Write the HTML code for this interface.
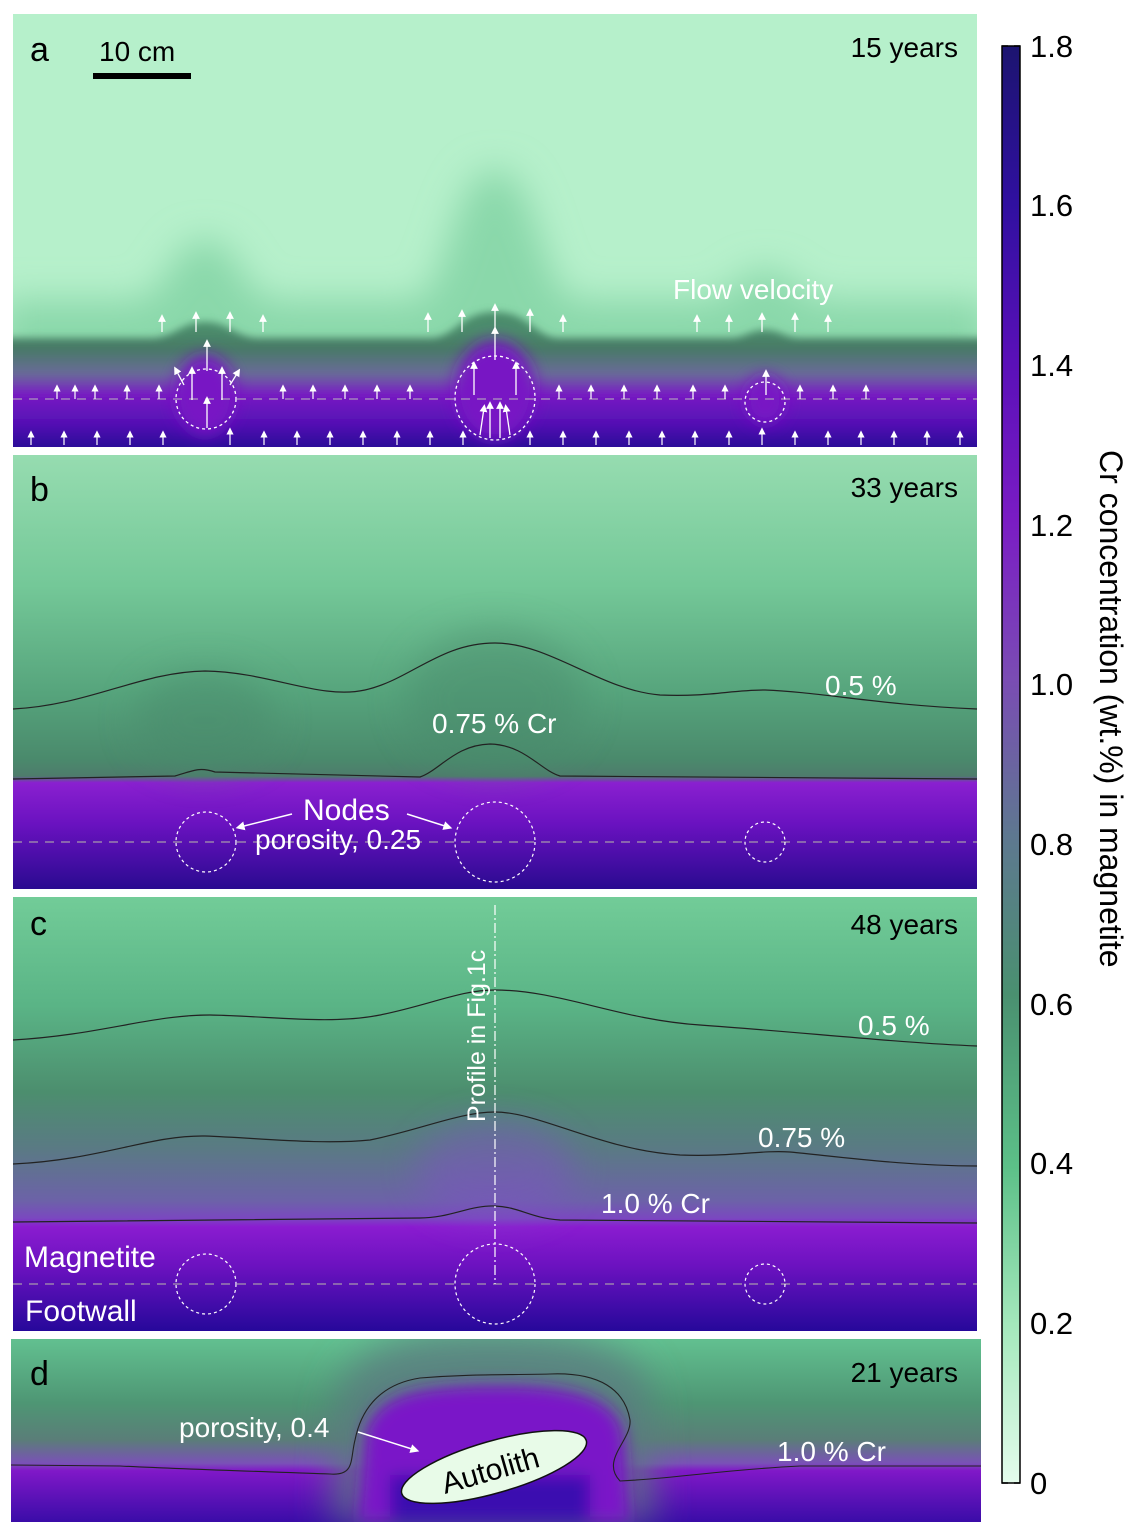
<!DOCTYPE html>
<html><head><meta charset="utf-8"><style>
html,body{margin:0;padding:0;background:#fff;}
svg{display:block;font-family:"Liberation Sans",Arial,sans-serif;}
</style></head><body>
<svg width="1142" height="1535" viewBox="0 0 1142 1535" xmlns="http://www.w3.org/2000/svg">
<defs>
<linearGradient id="cb" x1="0" y1="0" x2="0" y2="1">
<stop offset="0" stop-color="#1c1470"/><stop offset="0.11" stop-color="#3010a0"/>
<stop offset="0.22" stop-color="#5a10b8"/><stop offset="0.33" stop-color="#7a1cc4"/>
<stop offset="0.44" stop-color="#7a4cb4"/><stop offset="0.55" stop-color="#5e7890"/>
<stop offset="0.66" stop-color="#4a9070"/><stop offset="0.78" stop-color="#5cc088"/>
<stop offset="0.89" stop-color="#a4e8bc"/><stop offset="1" stop-color="#e4fcec"/>
</linearGradient>
<linearGradient id="pa" x1="0" y1="330" x2="0" y2="447" gradientUnits="userSpaceOnUse">
<stop offset="0" stop-color="#4c8c6c"/><stop offset="0.15" stop-color="#467a64"/>
<stop offset="0.38" stop-color="#6a6a9a"/><stop offset="0.55" stop-color="#7818c4"/>
<stop offset="0.8" stop-color="#5410b4"/><stop offset="1" stop-color="#2a0a98"/>
</linearGradient>
<linearGradient id="gb" x1="0" y1="455" x2="0" y2="889" gradientUnits="userSpaceOnUse">
<stop offset="0" stop-color="#96dcb0"/><stop offset="0.3" stop-color="#74c898"/>
<stop offset="0.55" stop-color="#56a47c"/><stop offset="0.7" stop-color="#4a8a6c"/>
<stop offset="0.74" stop-color="#4e7c6c"/><stop offset="0.755" stop-color="#8a20d0"/>
<stop offset="0.85" stop-color="#6a12c0"/><stop offset="1" stop-color="#2a0a90"/>
</linearGradient>
<linearGradient id="gc" x1="0" y1="897" x2="0" y2="1331" gradientUnits="userSpaceOnUse">
<stop offset="0" stop-color="#72cc98"/><stop offset="0.25" stop-color="#5ab486"/>
<stop offset="0.45" stop-color="#4c8e6e"/><stop offset="0.58" stop-color="#5a7a84"/>
<stop offset="0.7" stop-color="#6c62a8"/><stop offset="0.74" stop-color="#7a48c0"/>
<stop offset="0.76" stop-color="#8a1cd0"/><stop offset="0.85" stop-color="#6c12c0"/>
<stop offset="1" stop-color="#26089a"/>
</linearGradient>
<linearGradient id="gd" x1="0" y1="1339" x2="0" y2="1522" gradientUnits="userSpaceOnUse">
<stop offset="0" stop-color="#62c090"/><stop offset="0.35" stop-color="#4e9674"/>
<stop offset="0.55" stop-color="#5a7e78"/><stop offset="0.68" stop-color="#7a50b8"/>
<stop offset="0.72" stop-color="#8018c8"/><stop offset="1" stop-color="#3a0ca8"/>
</linearGradient>
<filter id="bl" x="-50%" y="-50%" width="200%" height="200%"><feGaussianBlur stdDeviation="18"/></filter>
<filter id="bl2" x="-50%" y="-50%" width="200%" height="200%"><feGaussianBlur stdDeviation="8"/></filter>
<filter id="bl3" x="-10%" y="-50%" width="120%" height="200%"><feGaussianBlur stdDeviation="4"/></filter>
<clipPath id="ca"><rect x="13" y="14" width="964" height="433"/></clipPath>
<clipPath id="cd"><rect x="11" y="1339" width="970" height="183"/></clipPath>
<marker id="ah" markerWidth="6" markerHeight="6" refX="3" refY="3" orient="auto"><path d="M0,0 L6,3 L0,6 z" fill="#fff"/></marker>
</defs>

<!-- Panel a -->
<g clip-path="url(#ca)">
<rect x="13" y="14" width="964" height="433" fill="#b6f0cb"/>
<g filter="url(#bl)">
<path d="M0,300 L130,300 C170,300 170,240 205,240 C240,240 240,300 280,300 L410,300 C450,300 450,170 495,170 C540,170 540,300 580,300 L700,300 C730,300 740,270 765,270 C790,270 800,300 830,300 L990,300 L990,460 L0,460 z" fill="#8ad8aa"/>
</g>
<g filter="url(#bl3)">
<path d="M0,338 L150,338 C175,338 180,322 205,322 C230,322 235,338 260,338 L430,338 C455,338 460,312 495,312 C530,312 535,338 560,338 L730,338 C745,338 750,330 765,330 C780,330 785,338 800,338 L990,338 L990,460 L0,460 z" fill="url(#pa)"/>
</g>
<g filter="url(#bl2)">
<ellipse cx="205" cy="395" rx="30" ry="40" fill="#7818c4"/>
<ellipse cx="495" cy="390" rx="40" ry="50" fill="#7818c4"/>
<ellipse cx="765" cy="400" rx="20" ry="24" fill="#7818c4"/>
</g>
<line x1="13" y1="399" x2="977" y2="399" stroke="#bbb" stroke-dasharray="9,7" stroke-width="1"/>
<g stroke="#fff" stroke-width="1.3" fill="none" stroke-dasharray="3,3">
<ellipse cx="206" cy="399" rx="30" ry="30"/><ellipse cx="495" cy="398" rx="40" ry="42"/><ellipse cx="765" cy="402" rx="20" ry="20"/>
</g>
<g stroke="#fff" stroke-width="1.3" marker-end="url(#ah)">
<line x1="162" y1="332" x2="162" y2="318"/><line x1="196" y1="332" x2="196" y2="315"/><line x1="230" y1="332" x2="230" y2="315"/><line x1="263" y1="332" x2="263" y2="318"/>
<line x1="428" y1="332" x2="428" y2="316"/><line x1="462" y1="332" x2="462" y2="313"/><line x1="495" y1="332" x2="495" y2="307"/><line x1="530" y1="332" x2="530" y2="312"/><line x1="563" y1="332" x2="563" y2="318"/>
<line x1="697" y1="332" x2="697" y2="318"/><line x1="729" y1="332" x2="729" y2="318"/><line x1="762" y1="332" x2="762" y2="316"/><line x1="795" y1="332" x2="795" y2="316"/><line x1="828" y1="332" x2="828" y2="318"/>
<line x1="207" y1="371" x2="207" y2="343"/><line x1="495" y1="360" x2="495" y2="330"/><line x1="766" y1="395" x2="766" y2="373"/>
<line x1="207" y1="428" x2="207" y2="400"/><line x1="490" y1="438" x2="490" y2="405"/><line x1="500" y1="438" x2="500" y2="405"/><line x1="480" y1="435" x2="484" y2="408"/><line x1="510" y1="435" x2="506" y2="408"/>
<line x1="192" y1="400" x2="192" y2="370"/><line x1="222" y1="400" x2="222" y2="370"/>
<line x1="474" y1="395" x2="474" y2="365"/><line x1="516" y1="395" x2="516" y2="365"/>
<line x1="184" y1="385" x2="176" y2="370"/><line x1="230" y1="385" x2="238" y2="372"/>
</g>
<g stroke="#fff" stroke-width="1.2" marker-end="url(#ah)">
<line x1="57" y1="399" x2="57" y2="388"/><line x1="75" y1="399" x2="75" y2="388"/><line x1="95" y1="399" x2="95" y2="388"/><line x1="127" y1="399" x2="127" y2="388"/><line x1="159" y1="399" x2="159" y2="388"/>
<line x1="283" y1="399" x2="283" y2="388"/><line x1="313" y1="399" x2="313" y2="388"/><line x1="345" y1="399" x2="345" y2="388"/><line x1="377" y1="399" x2="377" y2="388"/><line x1="410" y1="399" x2="410" y2="388"/>
<line x1="559" y1="399" x2="559" y2="388"/><line x1="591" y1="399" x2="591" y2="388"/><line x1="624" y1="399" x2="624" y2="388"/><line x1="657" y1="399" x2="657" y2="388"/><line x1="693" y1="399" x2="693" y2="388"/><line x1="725" y1="399" x2="725" y2="388"/>
<line x1="800" y1="399" x2="800" y2="388"/><line x1="833" y1="399" x2="833" y2="388"/><line x1="866" y1="399" x2="866" y2="388"/>
</g>
<g stroke="#fff" stroke-width="1.2" marker-end="url(#ah)">
<line x1="31" y1="445" x2="31" y2="434"/><line x1="64" y1="445" x2="64" y2="434"/><line x1="97" y1="445" x2="97" y2="434"/><line x1="130" y1="445" x2="130" y2="434"/><line x1="163" y1="445" x2="163" y2="434"/><line x1="230" y1="445" x2="230" y2="431"/><line x1="264" y1="445" x2="264" y2="434"/><line x1="297" y1="445" x2="297" y2="434"/><line x1="330" y1="445" x2="330" y2="434"/><line x1="363" y1="445" x2="363" y2="434"/><line x1="397" y1="445" x2="397" y2="434"/><line x1="430" y1="445" x2="430" y2="434"/><line x1="463" y1="445" x2="463" y2="434"/><line x1="530" y1="445" x2="530" y2="434"/><line x1="563" y1="445" x2="563" y2="434"/><line x1="596" y1="445" x2="596" y2="434"/><line x1="629" y1="445" x2="629" y2="434"/><line x1="662" y1="445" x2="662" y2="434"/><line x1="695" y1="445" x2="695" y2="434"/><line x1="729" y1="445" x2="729" y2="434"/><line x1="762" y1="445" x2="762" y2="431"/><line x1="795" y1="445" x2="795" y2="434"/><line x1="828" y1="445" x2="828" y2="434"/><line x1="861" y1="445" x2="861" y2="434"/><line x1="894" y1="445" x2="894" y2="434"/><line x1="927" y1="445" x2="927" y2="434"/><line x1="960" y1="445" x2="960" y2="434"/>
</g>
</g>
<text x="30" y="61" font-size="34">a</text>
<rect x="93" y="73" width="98" height="6" fill="#000"/>
<text x="99" y="61" font-size="28">10 cm</text>
<text x="958" y="57" font-size="28" text-anchor="end">15 years</text>
<text x="673" y="299" font-size="28" fill="#fff">Flow velocity</text>

<!-- Panel b -->
<rect x="13" y="455" width="964" height="434" fill="url(#gb)"/>
<g filter="url(#bl)" opacity="0.5">
<ellipse cx="495" cy="700" rx="90" ry="70" fill="#4a8a6c"/>
<ellipse cx="205" cy="720" rx="70" ry="50" fill="#4a8a6c"/>
</g>
<path d="M13,709 C90,705 140,672 205,671 C270,672 320,700 365,690 C410,680 440,643 495,643 C550,643 600,690 660,695 C710,697 730,690 765,690 C820,692 880,705 977,709" stroke="#222" stroke-width="1.2" fill="none"/>
<path d="M13,779 L175,776 C195,770 200,767 215,772 L420,777 C440,770 455,745 490,744 C525,745 540,770 560,776 L977,779" stroke="#222" stroke-width="1.2" fill="none"/>
<line x1="13" y1="842" x2="977" y2="842" stroke="#bba" stroke-dasharray="9,7" stroke-width="1"/>
<g stroke="#fff" stroke-width="1.2" fill="none" stroke-dasharray="3,3">
<circle cx="206" cy="842" r="30"/><circle cx="495" cy="842" r="40"/><circle cx="765" cy="842" r="20"/>
</g>
<g stroke="#fff" stroke-width="1.5" marker-end="url(#ah)">
<line x1="292" y1="814" x2="240" y2="827"/><line x1="407" y1="814" x2="448" y2="827"/>
</g>
<text x="30" y="501" font-size="34">b</text>
<text x="958" y="497" font-size="28" text-anchor="end">33 years</text>
<text x="825" y="695" font-size="28" fill="#fff">0.5 %</text>
<text x="432" y="733" font-size="28" fill="#fff">0.75 % Cr</text>
<text x="303" y="820" font-size="30" fill="#fff">Nodes</text>
<text x="255" y="849" font-size="28" fill="#fff">porosity, 0.25</text>

<!-- Panel c -->
<rect x="13" y="897" width="964" height="434" fill="url(#gc)"/>
<g filter="url(#bl)" opacity="0.45">
<ellipse cx="495" cy="1170" rx="80" ry="50" fill="#8050c8"/>
</g>
<path d="M13,1040 C100,1035 150,1015 210,1015 C270,1016 330,1025 380,1015 C430,1005 460,990 495,990 C560,990 620,1020 700,1025 C800,1032 900,1043 977,1046" stroke="#222" stroke-width="1.2" fill="none"/>
<path d="M13,1164 C100,1160 150,1135 205,1136 C260,1138 320,1145 370,1140 C420,1130 460,1112 495,1112 C540,1112 600,1150 680,1155 C730,1157 760,1150 790,1152 C850,1158 910,1166 977,1166" stroke="#222" stroke-width="1.2" fill="none"/>
<path d="M13,1222 L420,1218 C450,1218 470,1205 495,1206 C520,1207 530,1218 560,1220 L977,1223" stroke="#222" stroke-width="1.2" fill="none"/>
<line x1="13" y1="1284" x2="977" y2="1284" stroke="#bba" stroke-dasharray="9,7" stroke-width="1"/>
<g stroke="#fff" stroke-width="1.2" fill="none" stroke-dasharray="3,3">
<circle cx="206" cy="1284" r="30"/><circle cx="495" cy="1284" r="40"/><circle cx="765" cy="1284" r="20"/>
</g>
<line x1="495" y1="905" x2="495" y2="1284" stroke="#fff" stroke-width="1.2" stroke-dasharray="10,3,2,3"/>
<text x="30" y="935" font-size="34">c</text>
<text x="958" y="934" font-size="28" text-anchor="end">48 years</text>
<text x="858" y="1035" font-size="28" fill="#fff">0.5 %</text>
<text x="758" y="1147" font-size="28" fill="#fff">0.75 %</text>
<text x="601" y="1213" font-size="28" fill="#fff">1.0 % Cr</text>
<text transform="translate(485,1122) rotate(-90)" font-size="25" fill="#fff">Profile in Fig.1c</text>
<text x="24" y="1267" font-size="30" fill="#fff">Magnetite</text>
<text x="25" y="1321" font-size="30" fill="#fff">Footwall</text>

<!-- Panel d -->
<g clip-path="url(#cd)">
<rect x="11" y="1339" width="970" height="183" fill="url(#gd)"/>
<g filter="url(#bl)">
<path d="M330,1522 L335,1400 C350,1350 400,1330 500,1332 C600,1332 650,1360 650,1400 L655,1522 z" fill="#5a7a80" opacity="0.8"/>
</g>
<g filter="url(#bl2)">
<path d="M358,1522 L365,1430 C380,1395 410,1385 500,1385 C590,1385 625,1405 625,1445 L630,1522 z" fill="#7a14c8"/>
<rect x="390" y="1475" width="200" height="47" fill="#3a0cb0"/>
</g>
<path d="M11,1465 L120,1466 C200,1470 280,1472 330,1474 C355,1476 350,1460 355,1440 C360,1415 375,1385 420,1378 C470,1374 500,1375 550,1374 C600,1372 625,1390 630,1420 C632,1440 600,1460 620,1481 C680,1478 720,1470 800,1466 L981,1466" stroke="#222" stroke-width="1.1" fill="none"/>
<ellipse cx="494" cy="1467" rx="96" ry="26" transform="rotate(-16 494 1467)" fill="#e8fbe8" stroke="#111" stroke-width="1.5"/>
<text transform="translate(445,1494) rotate(-16)" font-size="30">Autolith</text>
<line x1="358" y1="1432" x2="415" y2="1450" stroke="#fff" stroke-width="1.5" marker-end="url(#ah)"/>
</g>
<text x="30" y="1385" font-size="34">d</text>
<text x="958" y="1382" font-size="28" text-anchor="end">21 years</text>
<text x="179" y="1437" font-size="28" fill="#fff">porosity, 0.4</text>
<text x="777" y="1461" font-size="28" fill="#fff">1.0 % Cr</text>

<!-- Colorbar -->
<rect x="1002" y="46" width="18" height="1437" fill="url(#cb)" stroke="#000" stroke-width="1.5"/>
<g stroke="#000" stroke-width="1.5">
<line x1="1002" y1="46" x2="1008" y2="46"/><line x1="1014" y1="46" x2="1020" y2="46"/>
<line x1="1002" y1="1483" x2="1008" y2="1483"/><line x1="1014" y1="1483" x2="1020" y2="1483"/>
</g>
<g font-size="31" text-anchor="start">
<text x="1030" y="57">1.8</text><text x="1030" y="216">1.6</text><text x="1030" y="376">1.4</text><text x="1030" y="536">1.2</text><text x="1030" y="695">1.0</text><text x="1030" y="855">0.8</text><text x="1030" y="1015">0.6</text><text x="1030" y="1174">0.4</text><text x="1030" y="1334">0.2</text><text x="1030" y="1494">0</text>
</g>
<text transform="translate(1100,450) rotate(90)" font-size="32">Cr concentration (wt.%) in magnetite</text>
</svg>
</body></html>
